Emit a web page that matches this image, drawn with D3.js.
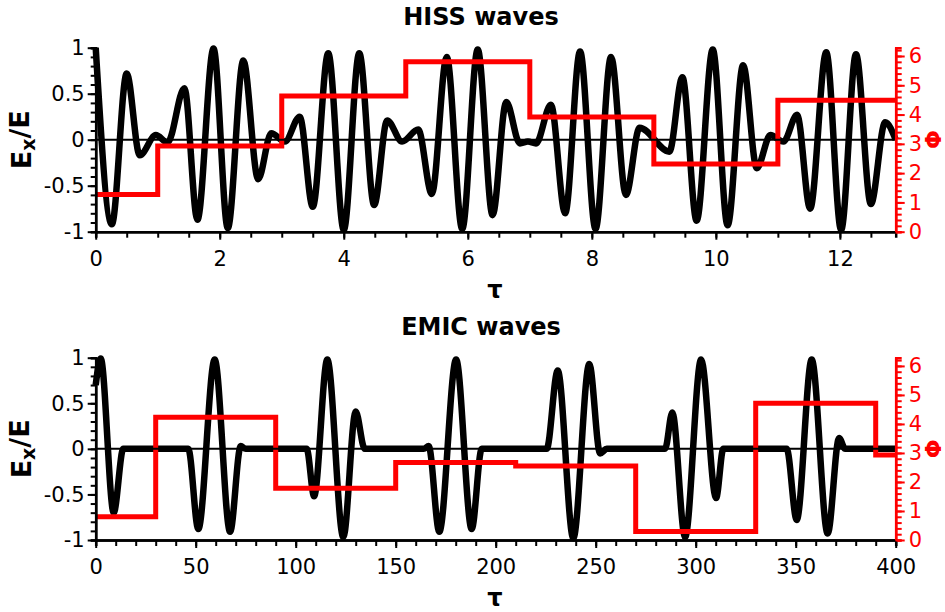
<!DOCTYPE html>
<html>
<head>
<meta charset="utf-8">
<script src="https://cdn.jsdelivr.net/npm/d3@7"></script>
<style>
  body { margin: 0; background: #fff; }
  text { font-family: "DejaVu Sans", Verdana, sans-serif; }
</style>
</head>
<body>
<script>
// HISS panel: wave extrema (tau, Ex/E)
const hissT = [0, 0.26, 0.5, 0.71, 0.97, 1.16, 1.43, 1.64, 1.9, 2.13, 2.38, 2.62, 2.83, 3.05, 3.29, 3.5, 3.75, 4.0, 4.25, 4.49, 4.7, 4.94, 5.2, 5.42, 5.66, 5.91, 6.16, 6.4, 6.62, 6.84, 6.97, 7.1, 7.34, 7.57, 7.81, 8.06, 8.31, 8.55, 8.77, 9.25, 9.46, 9.69, 9.95, 10.19, 10.44, 10.66, 10.88, 11.09, 11.31, 11.52, 11.78, 12.02, 12.26, 12.5, 12.73, 12.9];
const hissE = [1.0, -0.92, 0.72, -0.17, 0.05, -0.03, 0.56, -0.87, 0.99, -0.96, 0.86, -0.43, 0.07, -0.02, 0.25, -0.73, 0.94, -0.98, 0.94, -0.71, 0.21, -0.02, 0.11, -0.59, 0.9, -0.97, 0.98, -0.82, 0.41, -0.04, -0.02, -0.04, 0.38, -0.8, 0.96, -0.97, 0.9, -0.6, 0.13, -0.13, 0.68, -0.88, 0.98, -0.93, 0.81, -0.31, 0.05, -0.02, 0.27, -0.75, 0.95, -0.98, 0.93, -0.7, 0.19, 0.0];
// phase steps
const hissPhaseT = [0, 1, 3, 5, 7, 9, 11, 12.9];
const hissPhase = [1.27, 2.93, 4.63, 5.8, 3.92, 2.31, 4.49];

// EMIC panel
const emicT = [0, 2.5, 9.0, 13.8, 46.3, 51.3, 59.5, 67.2, 72.5, 75, 105.5, 109.2, 115.8, 123.8, 130.0, 134.5, 164.0, 166.5, 171.8, 180.2, 188.0, 193.0, 225.5, 231.0, 238.8, 246.8, 252.2, 255.5, 284.7, 288.3, 294.7, 302.7, 310.2, 313.8, 345.5, 350.5, 358.0, 366.0, 371.7, 374.7, 400];
const emicE = [0.7, 0.99, -0.7, 0.0, 0.0, -0.88, 0.98, -0.91, 0.03, 0.0, 0.0, -0.52, 0.98, -0.97, 0.41, 0.0, 0.0, 0.03, -0.91, 0.98, -0.88, 0.0, 0.0, 0.86, -0.98, 0.93, -0.05, 0.0, 0.0, 0.4, -0.97, 0.98, -0.54, 0.0, 0.0, -0.78, 0.98, -0.93, 0.12, 0.0, 0.0];
const emicPhaseT = [0, 30, 90, 150, 210, 270, 330, 390, 400];
const emicPhase = [0.8, 4.23, 1.78, 2.67, 2.55, 0.29, 4.71, 2.93];

const yTicks = [-1, -0.5, 0, 0.5, 1];
const phiTicks = [0, 1, 2, 3, 4, 5, 6];

const width = 945;
const height = 612;
const left = 95.7;
const right = 895.7;

const svg = d3
  .select("body")
  .append("svg")
  .attr("width", width)
  .attr("height", height)
  .style("background", "#fff");

function drawPanel(cfg) {
  const x = d3.scaleLinear().domain(cfg.xDomain).range([left, right]);
  const y = d3.scaleLinear().domain([-1, 1]).range([cfg.bottom, cfg.top]);
  const phi = d3.scaleLinear().domain([0, 2 * Math.PI]).range([cfg.bottom, cfg.top]);

  const g = svg.append("g");

  // wave
  const wave = cfg.t.map((d, i) => [d, cfg.e[i]]);
  g.append("path")
    .datum(wave)
    .attr("fill", "none")
    .attr("stroke", "#000")
    .attr("stroke-width", 6.5)
    .attr("stroke-linejoin", "round")
    .attr("d", d3.line().x((d) => x(d[0])).y((d) => y(d[1])).curve(d3.curveMonotoneX));

  // phase steps
  const steps = cfg.phaseT.map((d, i) => [d, cfg.phase[Math.min(i, cfg.phase.length - 1)]]);
  g.append("path")
    .datum(steps)
    .attr("fill", "none")
    .attr("stroke", "#ff0000")
    .attr("stroke-width", 5)
    .attr("d", d3.line().x((d) => x(d[0])).y((d) => phi(d[1])).curve(d3.curveStepAfter));

  // zero line
  g.append("line")
    .attr("x1", left)
    .attr("x2", right)
    .attr("y1", y(0))
    .attr("y2", y(0))
    .attr("stroke", "#000")
    .attr("stroke-width", 2);

  // minor ticks
  const minorX = d3.axisBottom(x).tickValues(cfg.xMinor).tickSize(6).tickFormat("");
  const minorY = d3.axisLeft(y).tickValues(d3.range(-10, 11).map((d) => d / 10)).tickSize(5).tickFormat("");
  const minorPhi = d3.axisRight(phi).tickValues(d3.range(0, 32).map((d) => d / 5)).tickSize(6).tickFormat("");

  g.append("g").attr("transform", `translate(0,${cfg.bottom})`).call(minorX);
  g.append("g").attr("transform", `translate(${left},0)`).call(minorY);
  g.append("g").attr("class", "red").attr("transform", `translate(${right},0)`).call(minorPhi);

  const xAxis = d3.axisBottom(x).tickValues(cfg.xTicks).tickSize(8).tickSizeOuter(0).tickPadding(11).tickFormat((d) => String(d));
  const yAxis = d3.axisLeft(y).tickValues(yTicks).tickSize(8).tickSizeOuter(0).tickPadding(3).tickFormat((d) => String(d));
  const phiAxis = d3.axisRight(phi).tickValues(phiTicks).tickSize(9).tickSizeOuter(0).tickPadding(4).tickFormat((d) => String(d));

  g.append("g").attr("class", "ax").attr("transform", `translate(0,${cfg.bottom})`).call(xAxis);
  g.append("g").attr("class", "ax").attr("transform", `translate(${left},0)`).call(yAxis);
  g.append("g").attr("class", "ax red").attr("transform", `translate(${right},0)`).call(phiAxis);

  g.selectAll(".tick line").attr("stroke-width", 2);
  g.selectAll(".domain").attr("stroke-width", 2.5);
  g.selectAll(".ax text").attr("font-size", "21px").attr("fill", "#000").style("font-family", "DejaVu Sans");
  g.selectAll(".red .domain, .red .tick line").attr("stroke", "#ff0000");
  g.selectAll(".red text").attr("fill", "#ff0000");

  // title
  g.append("text")
    .attr("x", 481)
    .attr("y", cfg.titleY)
    .attr("text-anchor", "middle")
    .attr("font-size", "24px")
    .attr("font-weight", "bold")
    .text(cfg.title);

  // x label
  g.append("text")
    .attr("x", 495)
    .attr("y", cfg.bottom + 66)
    .attr("text-anchor", "middle")
    .attr("font-size", "24px")
    .attr("font-weight", "bold")
    .text("τ");

  // y label
  const yl = g.append("text")
    .attr("transform", `translate(31,${(cfg.top + cfg.bottom) / 2}) rotate(-90)`)
    .attr("text-anchor", "middle")
    .attr("font-size", "27px")
    .attr("font-weight", "bold");
  yl.append("tspan").text("E");
  yl.append("tspan").attr("font-size", "19px").attr("dy", "0.2em").text("x");
  yl.append("tspan").attr("dy", "-0.2em").text("/E");

  // phi label
  g.append("text")
    .attr("transform", `translate(925,${(cfg.top + cfg.bottom) / 2}) rotate(90)`)
    .attr("text-anchor", "middle")
    .attr("font-size", "22px")
    .attr("font-weight", "bold")
    .attr("fill", "#ff0000")
    .text("Φ");
}

drawPanel({
  title: "HISS waves",
  titleY: 25,
  top: 47.7,
  bottom: 231.7,
  xDomain: [0, 12.9],
  xTicks: [0, 2, 4, 6, 8, 10, 12],
  xMinor: d3.range(0, 26).map((d) => d / 2),
  t: hissT,
  e: hissE,
  phaseT: hissPhaseT,
  phase: hissPhase,
});

drawPanel({
  title: "EMIC waves",
  titleY: 335,
  top: 357.7,
  bottom: 540,
  xDomain: [0, 400],
  xTicks: [0, 50, 100, 150, 200, 250, 300, 350, 400],
  xMinor: d3.range(0, 41).map((d) => d * 10),
  t: emicT,
  e: emicE,
  phaseT: emicPhaseT,
  phase: emicPhase,
});
</script>
</body>
</html>
